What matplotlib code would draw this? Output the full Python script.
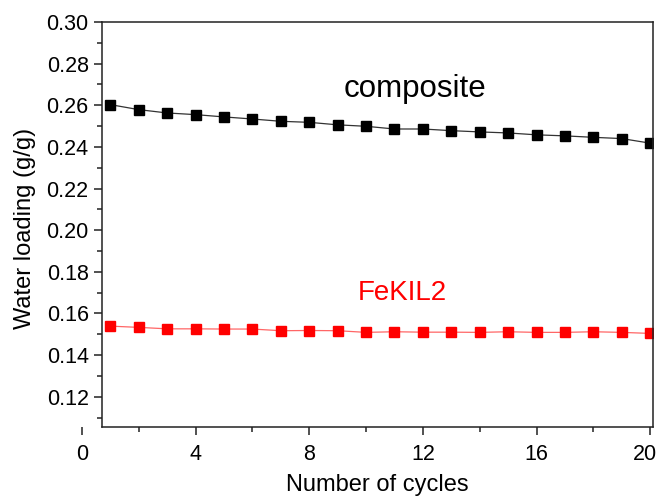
import matplotlib
matplotlib.use("Agg")
import matplotlib.pyplot as plt
from matplotlib.ticker import MultipleLocator
from matplotlib.transforms import ScaledTranslation

plt.rcParams['font.family'] = ['Liberation Sans', 'DejaVu Sans']

cycles = list(range(1, 21))
composite = [0.2603, 0.2579, 0.2563, 0.2555, 0.2544, 0.2534, 0.2523, 0.2518, 0.2506, 0.2499,
             0.2486, 0.2486, 0.2478, 0.2472, 0.2467, 0.2458, 0.2453, 0.2446, 0.2440, 0.2418]
fekil2 = [0.1539, 0.1533, 0.1526, 0.1526, 0.1525, 0.1525, 0.1517, 0.1518, 0.1517, 0.1509,
          0.1512, 0.1510, 0.1510, 0.1509, 0.1512, 0.1509, 0.1509, 0.1512, 0.1509, 0.1504]

fig = plt.figure(figsize=(6.59, 4.98), dpi=100)
ax = fig.add_axes([82/659, 1-427.3/498, 571/659, (427.3-22)/498])

ax.plot(cycles, composite, color='#333333', lw=0.9, marker='s', ms=6.5,
        mfc='black', mec='black')
ax.plot(cycles, fekil2, color='#ff6666', lw=0.9, marker='s', ms=6.5,
        mfc='red', mec='red')

ax.set_xlim(0, 20.1)
ax.set_ylim(0.1053, 0.30)

ax.spines['left'].set_position(('data', 0.7))
ax.spines['bottom'].set_bounds(0.7, 20.1)
ax.spines['top'].set_bounds(0.7, 20.1)
for s in ax.spines.values():
    s.set_linewidth(1.1)
    s.set_color('#222222')

ax.xaxis.set_major_locator(MultipleLocator(4))
ax.xaxis.set_minor_locator(MultipleLocator(2))
ax.yaxis.set_major_locator(MultipleLocator(0.02))
ax.yaxis.set_minor_locator(MultipleLocator(0.01))
ax.yaxis.set_major_formatter(matplotlib.ticker.FormatStrFormatter('%.2f'))

ax.tick_params(which='major', direction='out', length=6, width=1.1, labelsize=15.5, color='#222222')
ax.tick_params(which='minor', direction='out', length=3.5, width=1.1, color='#222222')
ax.tick_params(axis='x', which='major', pad=6)

ax.set_xlabel('Number of cycles', fontsize=17)
ax.xaxis.set_label_coords(0.518, -0.115)
ax.set_ylabel('Water loading (g/g)', fontsize=17)
ax.yaxis.set_label_coords(-0.08, 0.49)

ax.text(11.71, 0.2641, 'composite', fontsize=22.5, ha='center', va='baseline', color='black')
ax.text(11.27, 0.1665, 'FeKIL2', fontsize=20, ha='center', va='baseline', color='red')

fig.canvas.draw()
for tick in ax.xaxis.get_major_ticks():
    if abs(tick.get_loc() - 20) < 1e-6:
        lbl = tick.label1
        lbl.set_transform(lbl.get_transform() + ScaledTranslation(-4/72, 0, fig.dpi_scale_trans))

fig.savefig('out.png', dpi=100)
